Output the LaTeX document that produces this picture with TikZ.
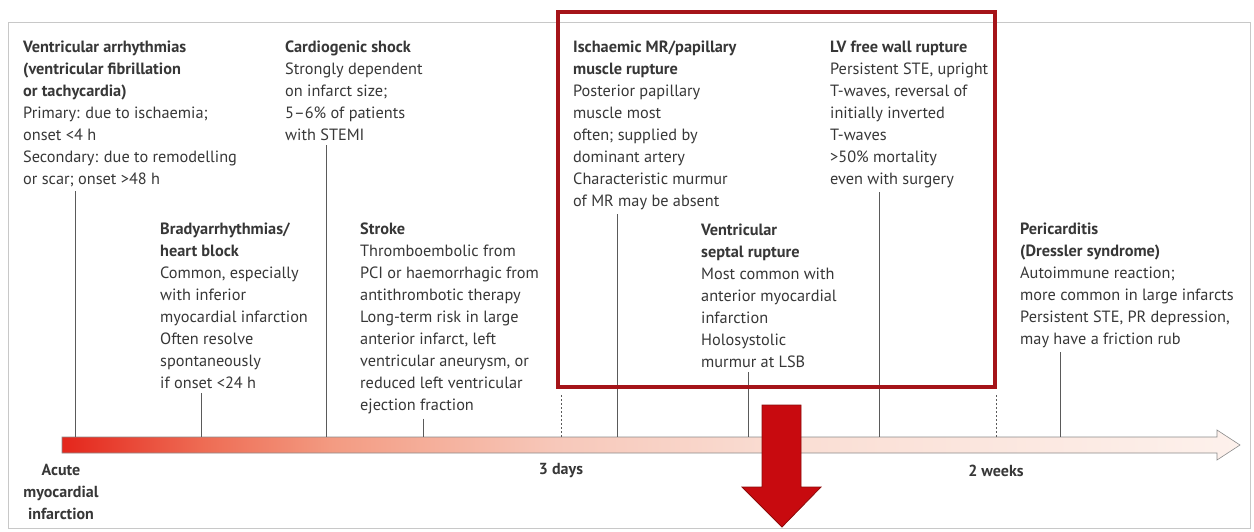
\documentclass[tikz,border=0pt]{standalone}
\usepackage{fontspec}
\setmainfont{PT Sans}

\definecolor{textgray}{RGB}{55,55,55}
\definecolor{linegray}{RGB}{90,90,90}
\definecolor{framegray}{RGB}{200,200,200}
\definecolor{boxred}{RGB}{165,20,25}
\definecolor{tlred}{RGB}{228,38,28}
\definecolor{tlsalmon}{RGB}{238,108,84}
\definecolor{tlpeach}{RGB}{243,155,130}
\definecolor{tlpink}{RGB}{247,200,186}
\definecolor{tllight}{RGB}{250,222,212}
\definecolor{tlpale}{RGB}{253,241,236}
\definecolor{arrowred}{RGB}{200,10,15}
\definecolor{arrowdark}{RGB}{140,10,10}

\pgfdeclarehorizontalshading{timefade}{100bp}{color(0bp)=(tlred); color(25bp)=(tlred);
  color(31bp)=(tlsalmon); color(36.5bp)=(tlpeach); color(46bp)=(tlpink);
  color(56bp)=(tllight); color(75bp)=(tlpale); color(100bp)=(tlpale)}

\tikzset{
  evtext/.style={anchor=north west, align=left, inner sep=0pt, text=textgray,
    font=\fontsize{16.3}{22}\selectfont},
  timelabel/.style={align=center, inner sep=0pt, text=textgray,
    font=\fontsize{16}{22}\selectfont\bfseries},
  tick/.style={draw=linegray, line width=0.8pt, shorten <=4pt},
  dotline/.style={draw=linegray, line width=0.8pt, dashed, dash pattern=on 2pt off 2pt}
}

\begin{document}
\begin{tikzpicture}[x=1pt,y=-1pt]
    \useasboundingbox (0,0) rectangle (1254,531);
    \draw[framegray, line width=1pt] (8,22) rectangle (1250,528);

    % timeline
    \shadedraw[shading=timefade, draw=linegray!70, line width=0.6pt]
        (62,437) -- (1217,437) -- (1217,430) -- (1240,445) -- (1217,460) -- (1217,453) -- (62,453) -- cycle;
    \coordinate (t1) at (75,437);
    \coordinate (t2) at (201,437);
    \coordinate (t3) at (326,437);
    \coordinate (t4) at (423,437);
    \coordinate (t5) at (617,437);
    \coordinate (t6) at (748,437);
    \coordinate (t7) at (879,437);
    \coordinate (t8) at (1060,437);
    \coordinate (days) at (561,437);
    \coordinate (weeks) at (996,437);
    \coordinate (daystop) at (561,395);
    \coordinate (weekstop) at (996,395);

    % complications
    \node[evtext] (vent) at (23,41) {\textbf{Ventricular arrhythmias}\\\textbf{(ventricular fibrillation}\\\textbf{or tachycardia)}\\Primary: due to ischaemia;\\onset <4 h\\Secondary: due to remodelling\\or scar; onset >48 h};
    \node[evtext] (shock) at (285,41) {\textbf{Cardiogenic shock}\\Strongly dependent\\on infarct size;\\5–6\% of patients\\with STEMI};
    \node[evtext] (brady) at (160,223) {\textbf{Bradyarrhythmias/}\\\textbf{heart block}\\Common, especially\\with inferior\\myocardial infarction\\Often resolve\\spontaneously\\if onset <24 h};
    \node[evtext] (stroke) at (360,223) {\textbf{Stroke}\\Thromboembolic from\\PCI or haemorrhagic from\\antithrombotic therapy\\Long-term risk in large\\anterior infarct, left\\ventricular aneurysm, or\\reduced left ventricular\\ejection fraction};
    \node[evtext] (papil) at (573,41) {\textbf{Ischaemic MR/papillary}\\\textbf{muscle rupture}\\Posterior papillary\\muscle most\\often; supplied by\\dominant artery\\Characteristic murmur\\of MR may be absent};
    \node[evtext] (septal) at (701,224) {\textbf{Ventricular}\\\textbf{septal rupture}\\Most common with\\anterior myocardial\\infarction\\Holosystolic\\murmur at LSB};
    \node[evtext] (wall) at (830,41) {\textbf{LV free wall rupture}\\Persistent STE, upright\\T-waves, reversal of\\initially inverted\\T-waves\\>50\% mortality\\even with surgery};
    \node[evtext] (peri) at (1020,223) {\textbf{Pericarditis}\\\textbf{(Dressler syndrome)}\\Autoimmune reaction;\\more common in large infarcts\\Persistent STE, PR depression,\\may have a friction rub};

    \draw[tick] (vent.south -| t1) -- (t1);
    \draw[tick] (brady.south -| t2) -- (t2);
    \draw[tick] (shock.south -| t3) -- (t3);
    \draw[tick] (stroke.south -| t4) -- (t4);
    \draw[tick] (papil.south -| t5) -- (t5);
    \draw[tick] (septal.south -| t6) -- (t6);
    \draw[tick] (wall.south -| t7) -- (t7);
    \draw[tick] (peri.south -| t8) -- (t8);
    \draw[dotline] (daystop) -- (days);
    \draw[dotline] (weekstop) -- (weeks);

    % time labels
    \node[timelabel] (ami) at (61,492) {Acute\\myocardial\\infarction};
    \node[timelabel] (threedays) at (561,471) {3 days};
    \node[timelabel] (twoweeks) at (996,471) {2 weeks};

    % highlight box and arrow
    \draw[boxred, line width=4pt] (558,12) rectangle (995,387);
    \filldraw[fill=arrowred, draw=arrowdark, line width=0.8pt]
        (762,405) -- (801,405) -- (801,487) -- (821,487) -- (782,527) -- (742,487) -- (762,487) -- cycle;
\end{tikzpicture}
\end{document}
